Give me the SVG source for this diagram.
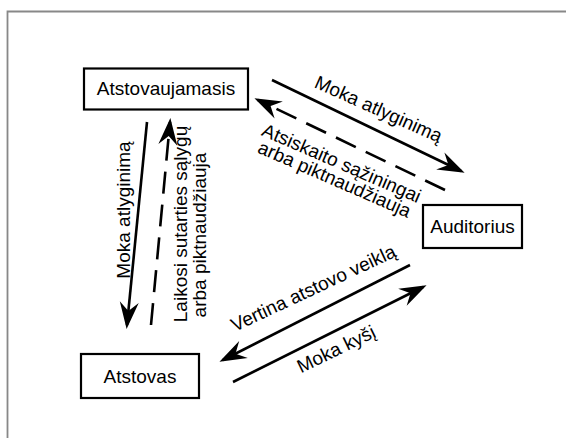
<svg xmlns="http://www.w3.org/2000/svg" width="566" height="438" viewBox="0 0 566 438">
<style>
.box{fill:#fff;stroke:#000;stroke-width:2.2}
.t{font-family:"Liberation Sans",Arial,sans-serif;font-size:19px;fill:#000;text-anchor:middle}
.ln{fill:none;stroke:#000;stroke-width:2.6}
.d{stroke-dasharray:22 11}
.frame{fill:none;stroke:#888;stroke-width:1.8}
</style>
<defs>
<marker id="ah" viewBox="-30 -12 34 24" refX="-4" refY="0" markerWidth="34" markerHeight="24" markerUnits="userSpaceOnUse" orient="auto" overflow="visible">
<path d="M0,0 L-27,-9.5 L-18,0 L-27,9.5 Z" fill="#000"/>
</marker>
</defs>
<rect width="566" height="438" fill="#fff"/>
<path class="frame" d="M7.5,438 V11.5 H566"/>
<g id="connectors">
<line class="ln" x1="272" y1="80" x2="461" y2="171" marker-end="url(#ah)"/>
<line class="ln d" x1="445" y1="190" x2="258" y2="100" marker-end="url(#ah)"/>
<line class="ln" x1="147" y1="122" x2="127" y2="325" marker-end="url(#ah)"/>
<line class="ln d" x1="151" y1="325" x2="170" y2="122" marker-end="url(#ah)"/>
<line class="ln" x1="410" y1="265" x2="223" y2="360" marker-end="url(#ah)"/>
<line class="ln" x1="233" y1="382" x2="423" y2="287" marker-end="url(#ah)"/>
<text class="t" transform="translate(376,115) rotate(24)">Moka atlyginimą</text>
<text class="t" transform="translate(339,169) rotate(23.5)">Atsiskaito sąžiningai</text>
<text class="t" transform="translate(332,185) rotate(23.5)">arba piktnaudžiauja</text>
<text class="t" transform="translate(130,210) rotate(-90)">Moka atlyginimą</text>
<text class="t" transform="translate(187,224) rotate(-90)">Laikosi sutarties sąlygų</text>
<text class="t" transform="translate(206,235) rotate(-90)">arba piktnaudžiauja</text>
<text class="t" transform="translate(316,294) rotate(-25)">Vertina atstovo veiklą</text>
<text class="t" transform="translate(339,355) rotate(-26)">Moka kyšį</text>
</g>
<g id="atstovaujamasis">
<rect class="box" x="84" y="68.5" width="164" height="41"/>
<text class="t" x="166" y="95">Atstovaujamasis</text>
</g>
<g id="auditorius">
<rect class="box" x="423" y="205" width="99" height="43"/>
<text class="t" x="472.5" y="233">Auditorius</text>
</g>
<g id="atstovas">
<rect class="box" x="81" y="354" width="118" height="44"/>
<text class="t" x="140" y="383">Atstovas</text>
</g>
</svg>
